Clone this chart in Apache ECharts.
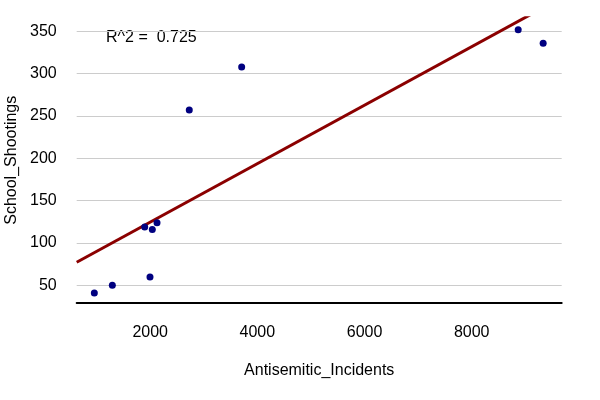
<!DOCTYPE html>
<html>
<head>
<meta charset="utf-8">
<script src="https://cdn.jsdelivr.net/npm/echarts@6/dist/echarts.min.js"></script>
<style>html,body{margin:0;padding:0;background:#fff}#c{width:600px;height:400px}</style>
</head>
<body>
<div id="c"></div>
<script>
var antisemiticIncidents = [957, 1293, 1897, 2039, 2127, 1996, 2729, 3707, 8868, 9334];
var schoolShootings = [41, 50, 119, 116, 124, 60, 257, 308, 352, 336];
var xRange = [628, 9680];
var yRange = [29.5, 366];
var r2Label = 'R^2 =  0.725';

// least squares fit from the data
var n = antisemiticIncidents.length, mx = 0, my = 0;
for (var i = 0; i < n; i++) { mx += antisemiticIncidents[i]; my += schoolShootings[i]; }
mx /= n; my /= n;
var sxy = 0, sxx = 0;
for (var i = 0; i < n; i++) {
  sxy += (antisemiticIncidents[i] - mx) * (schoolShootings[i] - my);
  sxx += (antisemiticIncidents[i] - mx) * (antisemiticIncidents[i] - mx);
}
var slope = sxy / sxx, intercept = my - slope * mx;
var fitLine = [xRange[0], xRange[1]].map(function (x) { return [x, intercept + slope * x]; });

var pts = antisemiticIncidents.map(function (x, i) { return [x, schoolShootings[i]]; });
var font = '"Liberation Sans", Arial, sans-serif';
var chart = echarts.init(document.getElementById('c'));
chart.setOption({
  animation: false,
  grid: { left: 76.7, right: 38.3, top: 17.8, bottom: 97.3, containLabel: false, outerBoundsMode: 'none' },
  xAxis: {
    type: 'value', min: xRange[0], max: xRange[1],
    name: 'Antisemitic_Incidents', nameLocation: 'middle', nameGap: 60,
    nameTextStyle: { fontFamily: font, fontSize: 16, color: '#000' },
    axisLine: { show: true, onZero: false, lineStyle: { color: '#000', width: 2 } },
    axisTick: { show: false },
    axisLabel: { fontFamily: font, fontSize: 16, color: '#000', margin: 22, showMinLabel: false, showMaxLabel: false,
      formatter: function (v) { return String(v); } },
    splitLine: { show: false }
  },
  yAxis: {
    type: 'value', min: yRange[0], max: yRange[1],
    name: 'School_Shootings', nameLocation: 'middle', nameGap: 56,
    nameTextStyle: { fontFamily: font, fontSize: 16, color: '#000' },
    axisLine: { show: false }, axisTick: { show: false },
    axisLabel: { fontFamily: font, fontSize: 16, color: '#000', margin: 20, showMinLabel: false, showMaxLabel: false,
      formatter: function (v) { return String(v); } },
    splitLine: { show: true, showMinLine: false, showMaxLine: false, lineStyle: { color: '#cccccc', width: 1 } }
  },
  series: [
    {
      type: 'line', data: fitLine, symbol: 'none', clip: true,
      lineStyle: { color: '#8b0000', width: 3 }, z: 2
    },
    {
      type: 'scatter', data: pts, symbol: 'circle', symbolSize: 7,
      itemStyle: { color: '#000080', opacity: 1 }, z: 3
    }
  ],
  graphic: [{
    type: 'text', left: 106, top: 30,
    style: { text: r2Label, font: '16px ' + font, fill: '#000' }
  }]
});
</script>
</body>
</html>
